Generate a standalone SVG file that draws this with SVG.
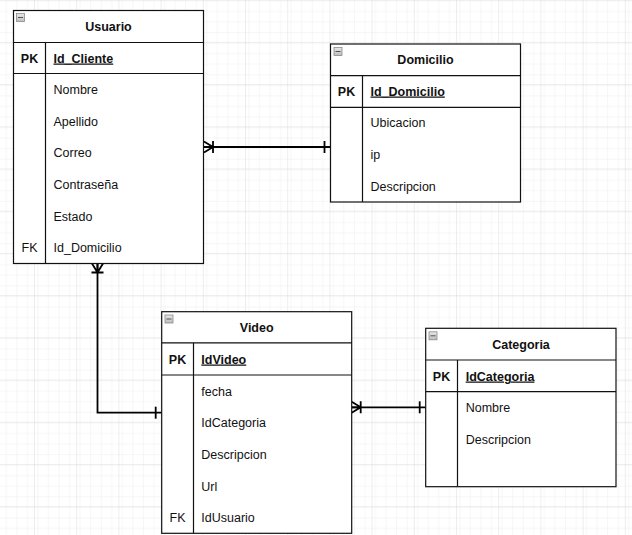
<svg xmlns="http://www.w3.org/2000/svg" width="632" height="535" viewBox="0 0 632 535">
<style>
.box{fill:#fff;stroke:#111;stroke-width:1.2}
.sep{stroke:#111;stroke-width:1.2;fill:none}
text{font-family:"Liberation Sans",Arial,sans-serif;font-size:12.5px;fill:#111}
.title{font-weight:bold;text-anchor:middle}
.key{font-weight:bold;text-anchor:middle}
.fk{text-anchor:middle}
.pkf{font-weight:bold;text-decoration:underline}
.icon{fill:url(#ig);stroke:#8a8a8a;stroke-width:0.8}
.iconbar{stroke:#555;stroke-width:1}
.conn{fill:none;stroke:#000;stroke-width:1.8;marker-start:url(#many);marker-end:url(#one)}
</style>
<defs>
<pattern id="minor" width="10.55" height="10.55" patternUnits="userSpaceOnUse" x="35" y="0.7">
<path d="M10.55 0V10.55M0 10.55H10.55" fill="none" stroke="#ededed" stroke-width="1"/>
</pattern>
<pattern id="major" width="42.2" height="42.2" patternUnits="userSpaceOnUse" x="35" y="0.7">
<rect width="42.2" height="42.2" fill="url(#minor)"/>
<path d="M42.2 0V42.2M0 42.2H42.2" fill="none" stroke="#dcdcdc" stroke-width="1"/>
</pattern>
<linearGradient id="ig" x1="0" y1="0" x2="0" y2="1">
<stop offset="0" stop-color="#e8e8e8"/>
<stop offset="1" stop-color="#bdbdbd"/>
</linearGradient>
<marker id="many" markerUnits="userSpaceOnUse" orient="auto" overflow="visible" markerWidth="1" markerHeight="1" refX="0" refY="0">
<path d="M0 -5.5L9 0L0 5.5M0 0H9M9 -6V6" fill="none" stroke="#000" stroke-width="1.8"/>
</marker>
<marker id="one" markerUnits="userSpaceOnUse" orient="auto" overflow="visible" markerWidth="1" markerHeight="1" refX="0" refY="0">
<path d="M-6 -6V6" fill="none" stroke="#000" stroke-width="1.8"/>
</marker>
<g id="collapse">
<rect class="icon" x="0" y="0" width="8" height="8"/>
<path class="iconbar" d="M1.5 4H6.5"/>
</g>
</defs>
<rect width="632" height="535" fill="#fff"/>
<rect width="632" height="535" fill="url(#major)"/>

<g id="connectors">
<path class="conn" d="M204 147H330.5"/>
<path class="conn" d="M97.5 263.5V412.7H161.7"/>
<path class="conn" d="M351.7 407.3H425.7"/>
</g>

<g id="usuario">
<rect class="box" x="13.5" y="10.5" width="190" height="253"/>
<path class="sep" d="M13.5 42.5H203.5M13.5 73.5H203.5M45.5 42.5V263.5"/>
<use href="#collapse" x="16.5" y="13.5"/>
<text class="title" x="108.5" y="30.5">Usuario</text>
<text class="key" x="29.5" y="62.5">PK</text>
<text class="pkf" x="53.5" y="62.5">Id_Cliente</text>
<text x="53.5" y="93.8">Nombre</text>
<text x="53.5" y="125.5">Apellido</text>
<text x="53.5" y="157.2">Correo</text>
<text x="53.5" y="188.8">Contraseña</text>
<text x="53.5" y="220.5">Estado</text>
<text class="fk" x="29.5" y="252.2">FK</text>
<text x="53.5" y="252.2">Id_Domicilio</text>
</g>

<g id="domicilio">
<rect class="box" x="330.5" y="44" width="190" height="158"/>
<path class="sep" d="M330.5 75.7H520.5M330.5 107.4H520.5M362.5 75.7V202"/>
<use href="#collapse" x="334" y="47.5"/>
<text class="title" x="425.5" y="63.8">Domicilio</text>
<text class="key" x="346.5" y="95.5">PK</text>
<text class="pkf" x="370.5" y="95.5">Id_Domicilio</text>
<text x="370.5" y="127.2">Ubicacion</text>
<text x="370.5" y="158.8">ip</text>
<text x="370.5" y="190.5">Descripcion</text>
</g>

<g id="video">
<rect class="box" x="161.7" y="311.7" width="190" height="221.6"/>
<path class="sep" d="M161.7 342.8H351.7M161.7 375H351.7M193.5 342.8V533.3"/>
<use href="#collapse" x="165" y="315"/>
<text class="title" x="256.7" y="331.5">Video</text>
<text class="key" x="177.5" y="363.5">PK</text>
<text class="pkf" x="201.3" y="363.5">IdVideo</text>
<text x="201.3" y="395.5">fecha</text>
<text x="201.3" y="427.2">IdCategoria</text>
<text x="201.3" y="458.8">Descripcion</text>
<text x="201.3" y="490.5">Url</text>
<text class="fk" x="177.5" y="522.2">FK</text>
<text x="201.3" y="522.2">IdUsuario</text>
</g>

<g id="categoria">
<rect class="box" x="425.7" y="328.3" width="190.3" height="158.4"/>
<path class="sep" d="M425.7 360H616M425.7 391.7H616M457.5 360V486.7"/>
<use href="#collapse" x="429" y="331.8"/>
<text class="title" x="521" y="348.5">Categoria</text>
<text class="key" x="441.5" y="380.5">PK</text>
<text class="pkf" x="465.7" y="380.5">IdCategoria</text>
<text x="465.7" y="412.2">Nombre</text>
<text x="465.7" y="443.8">Descripcion</text>
</g>
</svg>
